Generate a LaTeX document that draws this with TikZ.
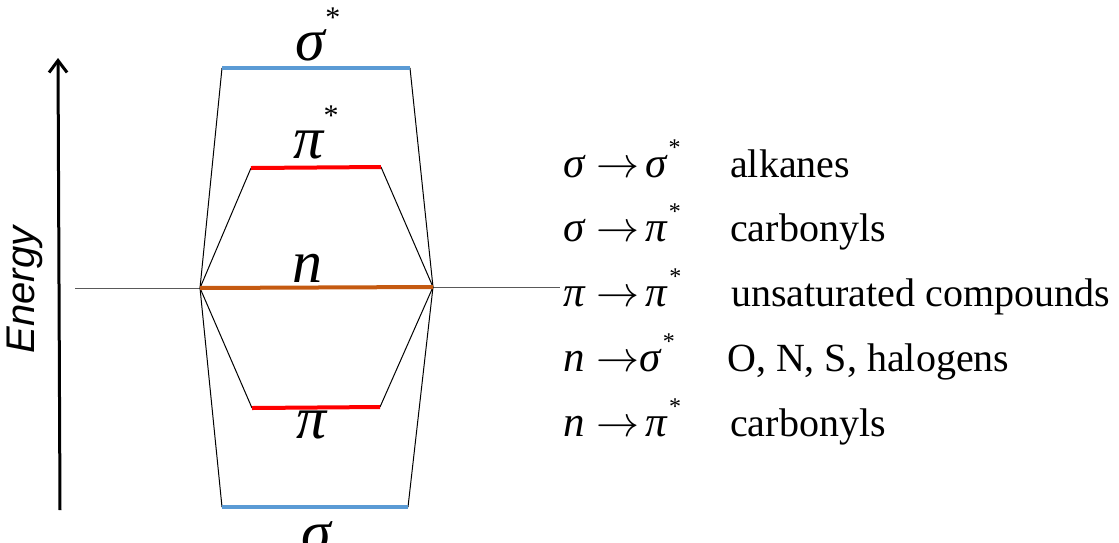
\RequirePackage{fix-cm}
\documentclass[tikz,border=0pt]{standalone}
\usepackage{fontspec}
\setmainfont{Liberation Serif}
\newfontfamily\sansfnt{Liberation Sans}
\usetikzlibrary{arrows.meta}
\definecolor{lvblue}{HTML}{5B9BD5}
\definecolor{lvred}{HTML}{FF0000}
\definecolor{lvorange}{HTML}{C55A11}
\newcommand\gsig{{\itshape σ}}
\newcommand\gpi{{\itshape π}}
\newcommand\gn{{\itshape n}}
\newcommand\arr{$\rightarrow$}
\newcommand\st{\raisebox{0.55em}{\fontsize{30}{30}\selectfont *}}
\newcommand\stsm{\hspace{2pt}\raisebox{0.5em}{\fontsize{24}{24}\selectfont *}}
\newcommand\ga{\hspace{12pt}}
\newcommand\gb{\hspace{6pt}}
\begin{document}
\begin{tikzpicture}[x=1pt,y=-1pt,
  level/.style={line width=4pt},
  conn/.style={line width=1pt,black},
  biglabel/.style={font=\fontsize{60}{60}\selectfont,inner sep=0pt,anchor=base},
  listmath/.style={font=\fontsize{43}{44}\selectfont,inner sep=0pt,anchor=base west},
  listtext/.style={font=\fontsize{40}{42}\selectfont,inner sep=0pt,anchor=base west}]
\useasboundingbox (0,0) rectangle (1119,542);
% coordinates
\coordinate (L) at (200,288);
\coordinate (R) at (433,287);
\coordinate (baseL) at (75,288);
\coordinate (baseR) at (560,287);
\coordinate (sAl) at (222,68);
\coordinate (sAr) at (410,68);
\coordinate (pAl) at (251,168);
\coordinate (pAr) at (381,167);
\coordinate (pl) at (252,408);
\coordinate (pr) at (380,407);
\coordinate (sl) at (222,507);
\coordinate (sr) at (408,507);
\coordinate (eb) at (60,510);
\coordinate (et) at (58,58);
% energy axis
\draw[line width=3pt,-{Straight Barb[length=12pt,width=18pt,line width=3pt]}] (eb) -- (et);
\node[rotate=90,font=\sansfnt\itshape\fontsize{40}{40}\selectfont,inner sep=0pt] (energy) at (25,290) {Energy};
% baseline
\draw[conn,gray!70!black] (baseL) -- (L);
\draw[conn,gray!70!black] (R) -- (baseR);
% connectors
\draw[conn] (L) -- (sAl);
\draw[conn] (L) -- (pAl);
\draw[conn] (L) -- (pl);
\draw[conn] (L) -- (sl);
\draw[conn] (R) -- (sAr);
\draw[conn] (R) -- (pAr);
\draw[conn] (R) -- (pr);
\draw[conn] (R) -- (sr);
% levels
\draw[level,lvblue] (sAl) -- (sAr);
\draw[level,lvred] (pAl) -- (pAr);
\draw[level,lvorange] (L) -- (R);
\draw[level,lvred] (pl) -- (pr);
\draw[level,lvblue] (sl) -- (sr);
% level labels
\node[biglabel] (lsa) at (318,60) {\gsig\st};
\node[biglabel] (lpa) at (316,158) {\gpi\st};
\node[biglabel] (ln) at (307,282) {\gn};
\node[biglabel] (lp) at (312,438) {\gpi};
\node[biglabel] (ls) at (316,552) {\gsig};
% list
\node[listmath] (m1) at (563,177) {\gsig\ga\arr\gb\gsig\stsm};
\node[listmath] (m2) at (563,241) {\gsig\ga\arr\gb\gpi\stsm};
\node[listmath] (m3) at (563,306) {\gpi\ga\arr\gb\gpi\stsm};
\node[listmath] (m4) at (563,371) {\gn\ga\arr\gsig\stsm};
\node[listmath] (m5) at (563,436) {\gn\ga\arr\gb\gpi\stsm};
\node[listtext] (t1) at (730,177) {alkanes};
\node[listtext] (t2) at (730,241) {carbonyls};
\node[listtext] (t3) at (731,306) {unsaturated compounds};
\node[listtext] (t4) at (727,371) {O, N, S, halogens};
\node[listtext] (t5) at (730,436) {carbonyls};
\end{tikzpicture}
\end{document}
